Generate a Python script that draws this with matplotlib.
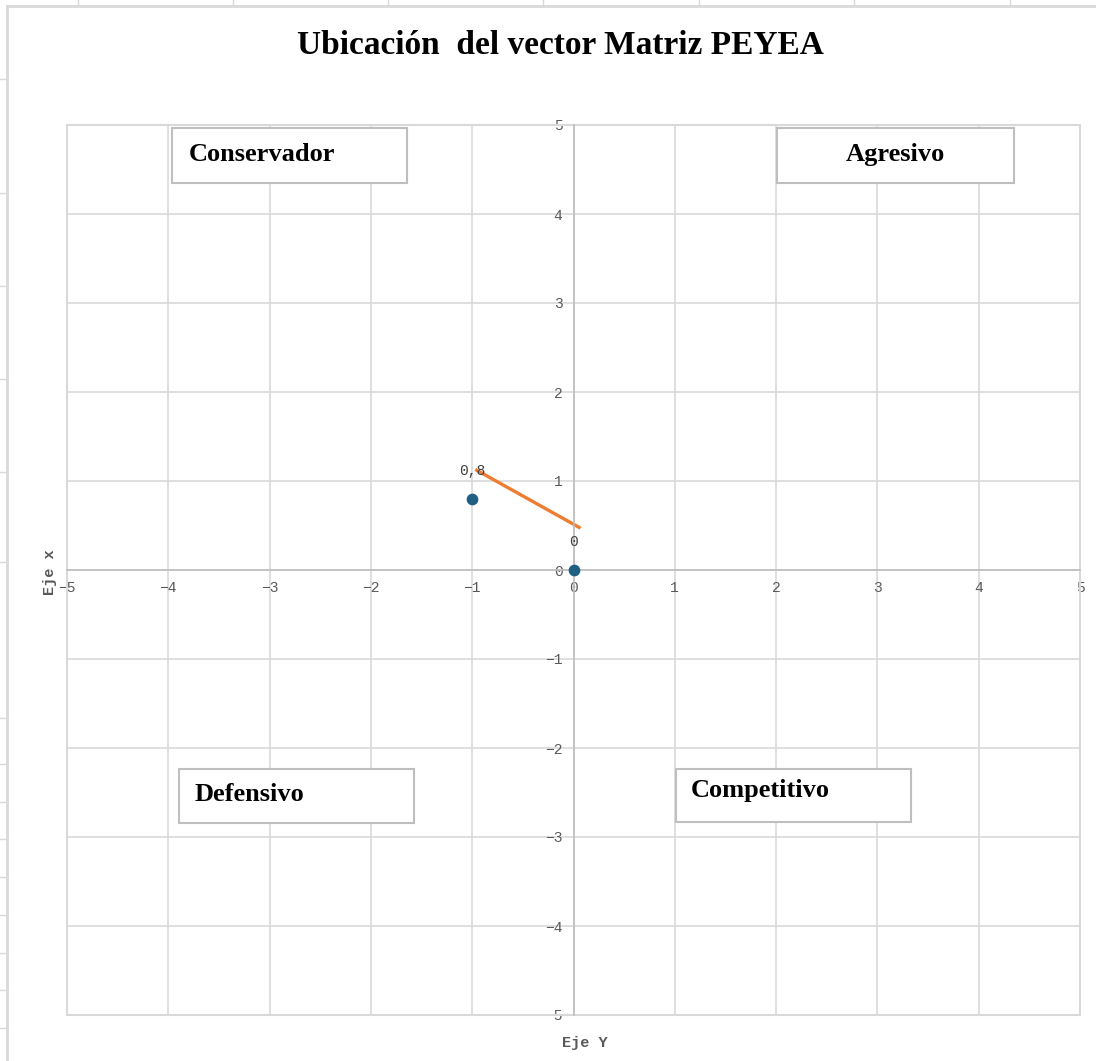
import matplotlib.pyplot as plt
from matplotlib.patches import Rectangle
from matplotlib.lines import Line2D

# Data
point_x = [-1, 0]
point_y = [0.8, 0]
point_labels = ['0,8', '0']
vector_x = [-0.97, 0.07]
vector_y = [1.13, 0.47]
ticks = [-5, -4, -3, -2, -1, 0, 1, 2, 3, 4, 5]
quadrants = ['Conservador', 'Agresivo', 'Defensivo', 'Competitivo']

W, H = 1096, 1061
fig = plt.figure(figsize=(W / 100, H / 100), dpi=100)

# screenshot frame: chart border, spreadsheet cell marks
fig.add_artist(Line2D([7 / W, 7 / W], [0, 1 - 6 / H], color='#d9d9d9', lw=2))
fig.add_artist(Line2D([7 / W, 1], [1 - 6 / H, 1 - 6 / H], color='#d9d9d9', lw=2))
for xp in [78, 233, 388, 543, 699, 854, 1010]:
    fig.add_artist(Line2D([xp / W, xp / W], [1 - 6 / H, 1], color='#d9d9d9', lw=1))
for yp in [79, 193, 286, 379, 472, 562, 718, 764, 802, 839, 877, 915, 953, 990, 1028]:
    fig.add_artist(Line2D([0, 7 / W], [1 - yp / H, 1 - yp / H], color='#d9d9d9', lw=1))

ax = fig.add_axes([67 / W, 1 - 1015 / H, (1080 - 67) / W, (1015 - 125) / H])
ax.set_xlim(-5, 5)
ax.set_ylim(-5, 5)
ax.set_xticks(ticks)
ax.set_yticks(ticks)
ax.grid(True, color='#d9d9d9', lw=1.2)
ax.set_axisbelow(True)

for s in ['top', 'right']:
    ax.spines[s].set_visible(False)
ax.spines['left'].set_position('zero')
ax.spines['bottom'].set_position('zero')
ax.spines['left'].set_color('#bfbfbf')
ax.spines['bottom'].set_color('#bfbfbf')
ax.spines['left'].set_linewidth(1.2)
ax.spines['bottom'].set_linewidth(1.2)
ax.add_patch(Rectangle((0, 0), 1, 1, transform=ax.transAxes, fill=False,
                       ec='#d9d9d9', lw=1.5, clip_on=False))

mono = ['Liberation Mono', 'DejaVu Sans Mono']
ax.tick_params(length=0, labelsize=10.5, labelcolor='#595959', pad=8)
for lab in ax.get_xticklabels() + ax.get_yticklabels():
    lab.set_family(mono)

# vector and points
ax.plot(vector_x, vector_y, color='#ed7d31', lw=2.4, solid_capstyle='butt')
ax.scatter(point_x, point_y, s=55, color='#1f5f82', zorder=3, clip_on=False)
for x, y, t in zip(point_x, point_y, point_labels):
    ax.annotate(t, (x, y), xytext=(0, 20), textcoords='offset points',
                ha='center', va='center', fontsize=10.5, color='#404040', family=mono)

# quadrant label boxes (axes fraction)
boxes = [(0.1037, 0.9348, 0.2319, 0.0618), (0.7009, 0.9348, 0.2339, 0.0618),
         (0.1106, 0.2157, 0.2320, 0.0607), (0.6012, 0.2169, 0.2320, 0.0595)]
text_pos = [(0.1204, 0.9663, 'left'), (0.8174, 0.9663, 'center'),
            (0.1264, 0.2472, 'left'), (0.6160, 0.2517, 'left')]
serif = ['Liberation Serif', 'DejaVu Serif']
for name, (bx, by, bw, bh), (tx, ty, ha) in zip(quadrants, boxes, text_pos):
    ax.add_patch(Rectangle((bx, by), bw, bh, transform=ax.transAxes, fc='white',
                           ec='#bfbfbf', lw=1.5, zorder=4, clip_on=False))
    ax.text(tx, ty, name, transform=ax.transAxes, ha=ha, va='center',
            fontsize=19, fontweight='bold', family=serif, zorder=5)

fig.text(560 / W, 1 - 45 / H, 'Ubicación  del vector Matriz PEYEA', ha='center',
         va='center', fontsize=24, fontweight='bold', family=serif)
fig.text(585 / W, 1 - 1043 / H, 'Eje Y', ha='center', va='center', fontsize=11,
         fontweight='bold', color='#595959', family=mono)
fig.text(50 / W, 1 - 572 / H, 'Eje x', ha='center', va='center', fontsize=11,
         fontweight='bold', color='#595959', family=mono, rotation=90)

fig.savefig('out.png', dpi=100)
